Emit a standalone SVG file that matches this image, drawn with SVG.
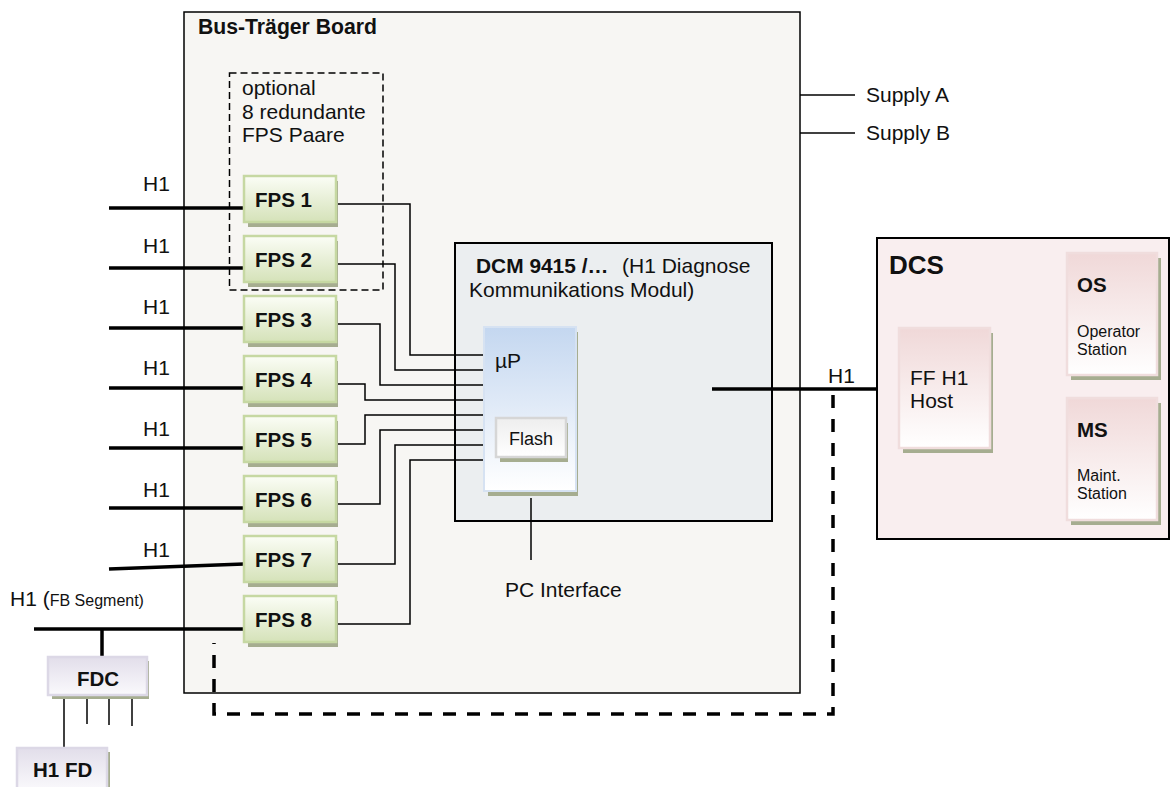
<svg xmlns="http://www.w3.org/2000/svg" width="1170" height="787" viewBox="0 0 1170 787">
<style>
.t{font-family:"Liberation Sans",Arial,sans-serif;font-size:21px;fill:#111}
.b{font-family:"Liberation Sans",Arial,sans-serif;font-size:20.5px;font-weight:bold;fill:#111}
.s{font-family:"Liberation Sans",Arial,sans-serif;font-size:16px;fill:#111}
.thin{fill:none;stroke:#000;stroke-width:1.5}
.thick{fill:none;stroke:#000;stroke-width:3.5}
.shadow{fill:#a6ad90}
.fps{fill:url(#gFPS);stroke:#c6d8a2;stroke-width:2.5}
.lav{fill:url(#gLav);stroke:#dcd8e6;stroke-width:2.5}
.pink{fill:url(#gPink);stroke:#f0dddd;stroke-width:2.5}
</style>
<defs>
<linearGradient id="gFPS" x1="0" y1="0" x2="0" y2="1"><stop offset="0" stop-color="#fbfdf6"/><stop offset="1" stop-color="#d5e2b9"/></linearGradient>
<linearGradient id="gLav" x1="0" y1="0" x2="0" y2="1"><stop offset="0" stop-color="#e2deea"/><stop offset="1" stop-color="#faf9fc"/></linearGradient>
<linearGradient id="gPink" x1="0" y1="0" x2="0" y2="1"><stop offset="0" stop-color="#f0d8d8"/><stop offset="1" stop-color="#ffffff"/></linearGradient>
<linearGradient id="gUP" x1="0" y1="0" x2="0" y2="1"><stop offset="0" stop-color="#c4d7f0"/><stop offset="1" stop-color="#ffffff"/></linearGradient>
<linearGradient id="gFlash" x1="0" y1="0" x2="0" y2="1"><stop offset="0" stop-color="#eeeeee"/><stop offset="1" stop-color="#ffffff"/></linearGradient>
</defs>
<rect width="1170" height="787" fill="#ffffff"/>

<g id="board">
<rect x="184" y="12" width="616" height="681" fill="#f7f6f3" stroke="#000" stroke-width="1.5"/>
<text class="b" x="198" y="34" style="font-size:21.2px">Bus-Träger Board</text>
</g>

<g id="optional-group">
<rect x="229.5" y="73" width="153.5" height="217" fill="none" stroke="#000" stroke-width="1.5" stroke-dasharray="7 4"/>
<text class="t" x="242" y="95">optional</text>
<text class="t" x="242" y="119">8 redundante</text>
<text class="t" x="242" y="142">FPS Paare</text>
</g>

<g id="dcm">
<rect x="455" y="243" width="317" height="278" fill="#ebeef0" stroke="#000" stroke-width="2"/>
<text class="b" x="476" y="273" style="font-size:20.9px">DCM 9415 /…</text>
<text class="t" x="622" y="273">(H1 Diagnose</text>
<text class="t" x="469" y="297">Kommunikations Modul)</text>
</g>

<g id="connectors">
<line class="thin" x1="800" y1="95" x2="855" y2="95"/>
<line class="thin" x1="800" y1="133" x2="855" y2="133"/>
<polyline class="thin" points="336,204 410,204 410,355 484,355"/>
<polyline class="thin" points="336,264 395,264 395,370 484,370"/>
<polyline class="thin" points="336,324 380,324 380,385 484,385"/>
<polyline class="thin" points="336,384 365,384 365,400 484,400"/>
<polyline class="thin" points="336,444 365,444 365,415 484,415"/>
<polyline class="thin" points="336,504 380,504 380,430 484,430"/>
<polyline class="thin" points="336,564 395,564 395,445 484,445"/>
<polyline class="thin" points="336,624 410,624 410,460 484,460"/>
<line class="thin" x1="531" y1="498" x2="531" y2="560"/>
<line class="thick" x1="109" y1="208" x2="244" y2="208"/>
<line class="thick" x1="109" y1="268" x2="244" y2="268"/>
<line class="thick" x1="109" y1="328" x2="244" y2="328"/>
<line class="thick" x1="109" y1="388" x2="244" y2="388"/>
<line class="thick" x1="109" y1="448" x2="244" y2="448"/>
<line class="thick" x1="109" y1="508" x2="244" y2="508"/>
<line class="thick" x1="109" y1="569" x2="244" y2="564"/>
<line class="thick" x1="34" y1="629" x2="244" y2="629"/>
<line class="thick" x1="102" y1="629" x2="102" y2="657"/>
<line class="thin" x1="64" y1="698" x2="64" y2="747"/>
<line class="thin" x1="87" y1="698" x2="87" y2="724"/>
<line class="thin" x1="109" y1="698" x2="109" y2="725"/>
<line class="thin" x1="132" y1="698" x2="132" y2="726"/>
<line class="thick" x1="712" y1="389" x2="877" y2="389"/>
<path class="thick" d="M833,395 V714 H214 V643" stroke-dasharray="13 11"/>
<polyline class="thin" points="990,389 1019,389"/>
<polyline class="thin" points="1067,299 1019,299 1019,464 1067,464"/>
</g>

<g id="labels">
<text class="t" x="866" y="102">Supply A</text>
<text class="t" x="866" y="140">Supply B</text>
<text class="t" x="143" y="191">H1</text>
<text class="t" x="143" y="253">H1</text>
<text class="t" x="143" y="314">H1</text>
<text class="t" x="143" y="375">H1</text>
<text class="t" x="143" y="436">H1</text>
<text class="t" x="143" y="497">H1</text>
<text class="t" x="143" y="557">H1</text>
<text class="t" x="10" y="606">H1 (<tspan class="s">FB Segment)</tspan></text>
<text class="t" x="505" y="597">PC Interface</text>
<text class="t" x="828" y="383">H1</text>
</g>

<g id="fps1"><rect class="shadow" x="248" y="181" width="90" height="46"/><rect class="fps" x="244" y="176" width="92" height="46"/><text class="b" x="255" y="207">FPS 1</text></g>
<g id="fps2"><rect class="shadow" x="248" y="241" width="90" height="46"/><rect class="fps" x="244" y="236" width="92" height="46"/><text class="b" x="255" y="267">FPS 2</text></g>
<g id="fps3"><rect class="shadow" x="248" y="301" width="90" height="46"/><rect class="fps" x="244" y="296" width="92" height="46"/><text class="b" x="255" y="327">FPS 3</text></g>
<g id="fps4"><rect class="shadow" x="248" y="361" width="90" height="46"/><rect class="fps" x="244" y="356" width="92" height="46"/><text class="b" x="255" y="387">FPS 4</text></g>
<g id="fps5"><rect class="shadow" x="248" y="421" width="90" height="46"/><rect class="fps" x="244" y="416" width="92" height="46"/><text class="b" x="255" y="447">FPS 5</text></g>
<g id="fps6"><rect class="shadow" x="248" y="481" width="90" height="46"/><rect class="fps" x="244" y="476" width="92" height="46"/><text class="b" x="255" y="507">FPS 6</text></g>
<g id="fps7"><rect class="shadow" x="248" y="541" width="90" height="46"/><rect class="fps" x="244" y="536" width="92" height="46"/><text class="b" x="255" y="567">FPS 7</text></g>
<g id="fps8"><rect class="shadow" x="248" y="601" width="90" height="46"/><rect class="fps" x="244" y="596" width="92" height="46"/><text class="b" x="255" y="627">FPS 8</text></g>

<g id="up">
<rect class="shadow" x="488" y="332" width="90" height="164"/>
<rect x="484" y="327" width="92" height="164" fill="url(#gUP)" stroke="#d6e2f2" stroke-width="2"/>
<text class="t" x="495" y="368">µP</text>
</g>
<g id="flash">
<rect class="shadow" x="500" y="423" width="68" height="39"/>
<rect x="496" y="418" width="70" height="39" fill="url(#gFlash)" stroke="#d6d6d6" stroke-width="2.5"/>
<text class="t" x="531" y="445" text-anchor="middle" style="font-size:18px">Flash</text>
</g>

<g id="fdc">
<rect class="shadow" x="52" y="661" width="97" height="38"/>
<rect class="lav" x="48" y="657" width="99" height="38"/>
<text class="b" x="98" y="686" text-anchor="middle">FDC</text>
</g>
<g id="h1fd">
<rect class="shadow" x="21" y="752" width="89" height="40"/>
<rect class="lav" x="17" y="748" width="90" height="42"/>
<text class="b" x="33" y="777">H1 FD</text>
</g>

<g id="dcs">
<rect x="877" y="238" width="292" height="301" fill="#f9eeef" stroke="#000" stroke-width="2"/>
<text class="b" x="889" y="274" style="font-size:26px">DCS</text>
</g>
<g id="host">
<rect class="shadow" x="903" y="333" width="90" height="120"/>
<rect class="pink" x="899" y="328" width="91" height="120"/>
<text class="t" x="910" y="385">FF H1</text>
<text class="t" x="910" y="408">Host</text>
</g>
<g id="os">
<rect class="shadow" x="1071" y="258" width="90" height="122"/>
<rect class="pink" x="1067" y="253" width="90" height="122"/>
<text class="b" x="1077" y="292">OS</text>
<text class="s" x="1077" y="337">Operator</text>
<text class="s" x="1077" y="355">Station</text>
</g>
<g id="ms">
<rect class="shadow" x="1071" y="403" width="90" height="122"/>
<rect class="pink" x="1067" y="398" width="90" height="122"/>
<text class="b" x="1077" y="437">MS</text>
<text class="s" x="1077" y="481">Maint.</text>
<text class="s" x="1077" y="499">Station</text>
</g>
</svg>
